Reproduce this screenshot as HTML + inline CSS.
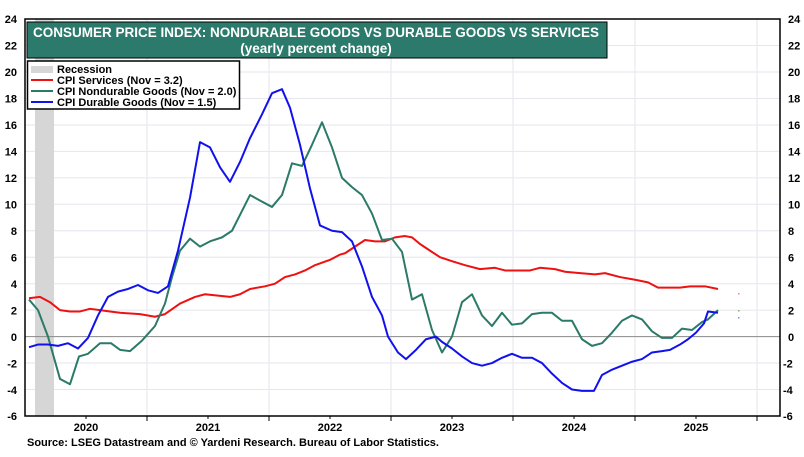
<!DOCTYPE html>
<html><head><meta charset="utf-8"><style>
body{margin:0;background:#fff;font-family:"Liberation Sans",Arial,sans-serif;}
svg text{font-family:"Liberation Sans",Arial,sans-serif;font-weight:bold;}
</style></head><body>
<svg width="804" height="452" xmlns="http://www.w3.org/2000/svg">
<rect width="804" height="452" fill="#fff"/>
<g stroke="#e6e6ee" stroke-width="1">
<line x1="25" x2="780" y1="45.5" y2="45.5"/><line x1="25" x2="780" y1="72" y2="72"/><line x1="25" x2="780" y1="98.5" y2="98.5"/><line x1="25" x2="780" y1="125" y2="125"/><line x1="25" x2="780" y1="151.4" y2="151.4"/><line x1="25" x2="780" y1="177.9" y2="177.9"/><line x1="25" x2="780" y1="204.3" y2="204.3"/><line x1="25" x2="780" y1="230.8" y2="230.8"/><line x1="25" x2="780" y1="257.2" y2="257.2"/><line x1="25" x2="780" y1="283.7" y2="283.7"/><line x1="25" x2="780" y1="310.1" y2="310.1"/><line x1="25" x2="780" y1="363" y2="363"/><line x1="25" x2="780" y1="389.5" y2="389.5"/>
<line x1="147" x2="147" y1="19" y2="416"/><line x1="269" x2="269" y1="19" y2="416"/><line x1="391" x2="391" y1="19" y2="416"/><line x1="513" x2="513" y1="19" y2="416"/><line x1="635" x2="635" y1="19" y2="416"/><line x1="757" x2="757" y1="19" y2="416"/>
</g>
<rect x="35" y="19" width="19" height="397" fill="#d6d6d6"/>
<line x1="25" x2="780" y1="336.6" y2="336.6" stroke="#888" stroke-width="1"/>
<rect x="25" y="19" width="755" height="397" fill="none" stroke="#000" stroke-width="1.5"/>
<g stroke="#000" stroke-width="1">
<line x1="147" x2="147" y1="416" y2="421"/><line x1="269" x2="269" y1="416" y2="421"/><line x1="391" x2="391" y1="416" y2="421"/><line x1="513" x2="513" y1="416" y2="421"/><line x1="635" x2="635" y1="416" y2="421"/><line x1="757" x2="757" y1="416" y2="421"/>
<line x1="86" x2="86" y1="416" y2="419"/><line x1="208" x2="208" y1="416" y2="419"/><line x1="330" x2="330" y1="416" y2="419"/><line x1="452" x2="452" y1="416" y2="419"/><line x1="574" x2="574" y1="416" y2="419"/><line x1="696" x2="696" y1="416" y2="419"/>
</g>
<g font-size="11" text-anchor="end" fill="#000">
<text x="17" y="23">24</text><text x="17" y="49.5">22</text><text x="17" y="76">20</text><text x="17" y="102.5">18</text><text x="17" y="129">16</text><text x="17" y="155.5">14</text><text x="17" y="182">12</text><text x="17" y="208.5">10</text><text x="17" y="235">8</text><text x="17" y="261.5">6</text><text x="17" y="288">4</text><text x="17" y="314.5">2</text><text x="17" y="341">0</text><text x="17" y="367.5">-2</text><text x="17" y="394">-4</text><text x="17" y="420">-6</text>
</g>
<g font-size="11" text-anchor="start" fill="#000">
<text x="788" y="23">24</text><text x="788" y="49.5">22</text><text x="788" y="76">20</text><text x="788" y="102.5">18</text><text x="788" y="129">16</text><text x="788" y="155.5">14</text><text x="788" y="182">12</text><text x="788" y="208.5">10</text><text x="788" y="235">8</text><text x="788" y="261.5">6</text><text x="788" y="288">4</text><text x="788" y="314.5">2</text><text x="788" y="341">0</text><text x="783" y="367.5">-2</text><text x="783" y="394">-4</text><text x="783" y="420">-6</text>
</g>
<g font-size="11" text-anchor="middle"><text x="86" y="431">2020</text><text x="208" y="431">2021</text><text x="330" y="431">2022</text><text x="452" y="431">2023</text><text x="574" y="431">2024</text><text x="696" y="431">2025</text></g>
<text x="27" y="446" font-size="11">Source: LSEG Datastream and © Yardeni Research. Bureau of Labor Statistics.</text>
<g transform="matrix(1,0,0,-13.23,0,336.6)" fill="none" stroke-width="2" stroke-linejoin="round">
<polyline vector-effect="non-scaling-stroke" stroke="#ee1111" points="29,2.9 40,3.0 50,2.6 60,2.0 70,1.9 80,1.9 90,2.1 100,2.0 110,1.9 120,1.8 140,1.7 155,1.5 165,1.7 180,2.5 195,3.0 205,3.2 230,3.0 240,3.2 250,3.6 265,3.8 275,4.0 285,4.5 295,4.7 305,5.0 315,5.4 330,5.8 340,6.2 345,6.3 355,6.8 365,7.3 375,7.2 385,7.2 395,7.5 405,7.6 412,7.5 420,7.0 430,6.5 440,6.0 452,5.7 465,5.4 480,5.1 495,5.2 505,5.0 530,5.0 540,5.2 555,5.1 565,4.9 580,4.8 595,4.7 605,4.8 620,4.5 635,4.3 648,4.1 658,3.7 680,3.7 690,3.8 705,3.8 718,3.6"/>
<polyline vector-effect="non-scaling-stroke" stroke="#2b7a68" points="29,2.8 38,2.0 48,0 60,-3.2 70,-3.6 79,-1.5 88,-1.3 100,-0.5 111,-0.5 120,-1.0 130,-1.1 142,-0.3 155,0.8 165,2.5 172,4.5 180,6.5 190,7.4 200,6.8 210,7.2 222,7.5 232,8.0 242,9.5 250,10.7 262,10.2 272,9.8 282,10.7 292,13.1 302,12.9 312,14.5 322,16.2 332,14.3 342,12.0 352,11.3 362,10.7 372,9.3 382,7.3 392,7.4 402,6.4 412,2.8 422,3.2 432,0.5 442,-1.2 452,0 462,2.6 472,3.2 482,1.6 492,0.8 502,1.8 512,0.9 522,1.0 532,1.7 542,1.8 552,1.8 562,1.2 572,1.2 582,-0.2 592,-0.7 602,-0.5 612,0.3 622,1.2 632,1.6 642,1.3 652,0.4 662,-0.1 672,-0.1 682,0.6 692,0.5 702,1.1 708,1.3 718,2.0"/>
<polyline vector-effect="non-scaling-stroke" stroke="#1111ee" points="29,-0.8 38,-0.6 48,-0.6 58,-0.7 68,-0.5 78,-0.9 88,-0.1 98,1.6 108,3.0 118,3.4 128,3.6 138,3.9 148,3.5 158,3.3 168,3.8 178,6.5 190,10.5 200,14.7 210,14.3 220,12.8 230,11.7 240,13.2 250,15.0 262,16.8 272,18.4 282,18.7 290,17.3 300,14.5 310,11.2 320,8.4 332,8.0 342,7.9 352,7.2 362,5.3 372,3.0 382,1.6 388,0 398,-1.2 406,-1.7 416,-1.0 426,-0.2 436,0 442,-0.4 452,-0.9 462,-1.5 472,-2.0 482,-2.2 492,-2.0 502,-1.6 512,-1.3 522,-1.6 532,-1.6 542,-2.0 552,-2.8 562,-3.5 572,-4.0 582,-4.1 594,-4.1 602,-2.9 612,-2.5 622,-2.2 632,-1.9 642,-1.7 652,-1.2 662,-1.1 670,-1.0 680,-0.6 688,-0.2 696,0.3 704,1.0 708,1.9 718,1.8"/>
</g>
<rect x="738" y="293" width="1.5" height="1.5" fill="#e88"/><rect x="738" y="310" width="1.5" height="1.5" fill="#8a8"/><rect x="738" y="317" width="1.5" height="1.5" fill="#88e"/>
<rect x="27" y="22" width="580" height="36" fill="#2b7a6b" stroke="#000" stroke-width="1"/>
<text x="316" y="37" font-size="13.5" fill="#fff" text-anchor="middle">CONSUMER PRICE INDEX: NONDURABLE GOODS VS DURABLE GOODS VS SERVICES</text>
<text x="316" y="53" font-size="13.5" fill="#fff" text-anchor="middle">(yearly percent change)</text>
<rect x="27.5" y="61" width="212" height="48" fill="#fff" stroke="#000" stroke-width="1.5"/>
<rect x="31" y="66" width="22" height="7" fill="#d6d6d6"/>
<line x1="31" x2="53" y1="80" y2="80" stroke="#ee1111" stroke-width="2"/>
<line x1="31" x2="53" y1="91" y2="91" stroke="#2b7a68" stroke-width="2"/>
<line x1="31" x2="53" y1="102" y2="102" stroke="#1111ee" stroke-width="2"/>
<g font-size="11"><text x="57" y="73">Recession</text><text x="57" y="84">CPI Services (Nov = 3.2)</text><text x="57" y="95">CPI Nondurable Goods (Nov = 2.0)</text><text x="57" y="106">CPI Durable Goods (Nov = 1.5)</text></g>
</svg>
</body></html>
